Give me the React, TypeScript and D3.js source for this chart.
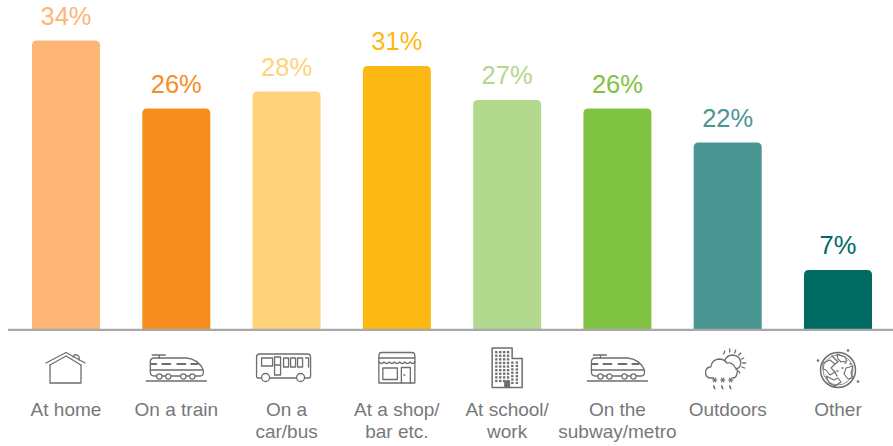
import React, { useEffect, useRef } from "react";
import * as d3 from "d3";

const categories = ["home", "train", "bus", "shop", "school", "subway", "outdoors", "other"];
const values = [34, 26, 28, 31, 27, 26, 22, 7];
const barColors = ["#FDB675", "#F78D1F", "#FFD27C", "#FDB913", "#B2D88D", "#80C342", "#4A9693", "#006B63"];
const tickLines = [
  ["At home"],
  ["On a train"],
  ["On a", "car/bus"],
  ["At a shop/", "bar etc."],
  ["At school/", "work"],
  ["On the", "subway/metro"],
  ["Outdoors"],
  ["Other"],
];

const INK = "#6d6e71";
const WIDTH = 893;
const HEIGHT = 446;
const BASE_Y = 329.5;

type Sel = d3.Selection<SVGGElement, unknown, null, undefined>;

const stroke = (g: Sel, d: string, w = 1.3) =>
  g.append("path").attr("d", d).attr("fill", "none").attr("stroke", INK).attr("stroke-width", w)
    .attr("stroke-linejoin", "round").attr("stroke-linecap", "round");

function house(g: Sel) {
  stroke(g, "M-20,-6 L0,-16.5 L19,-6");
  stroke(g, "M-16,-4 L0,-13 L15,-4");
  stroke(g, "M-16,-4 V14 H15 V-4");
  stroke(g, "M7,-12 Q8,-15 11,-14 Q14,-13 13,-9");
}

function train(g: Sel) {
  stroke(g, "M-24,-14 H-11 M-17,-14 V-11");
  stroke(g, "M-22,-11 H10 Q22,-10 27,1 V4 Q27,7 23,7 H-22 Q-26,7 -26,3 V-7 Q-26,-11 -22,-11 Z");
  stroke(g, "M-25,-5 H-20 M-14,-5 H-6 M1,-5 H9 M15,-5 H21", 2);
  stroke(g, "M-26,1 H26");
  [-17, -8, 7, 16].forEach((x) =>
    g.append("circle").attr("cx", x).attr("cy", 7.5).attr("r", 2.6)
      .attr("fill", "#fff").attr("stroke", INK).attr("stroke-width", 1.2));
  stroke(g, "M-30,12 H30", 1.5);
}

function bus(g: Sel) {
  stroke(g, "M-23,9 H-26 Q-27,9 -27,7 V-12 Q-27,-15 -24,-15 H24 Q27,-15 27,-12 V7 Q27,9 25,9 H22 M13,9 H-14");
  stroke(g, "M-22,-11 H-11 V-3 H-22 Z");
  stroke(g, "M-9,-12 H-3 V6 H-9 Z M-9,-4 H-3");
  [0, 7, 14].forEach((x) => stroke(g, `M${x},-11 h5 v9 h-5 Z`));
  stroke(g, "M22,-11 h3 v9");
  [-18, 17].forEach((x) =>
    g.append("circle").attr("cx", x).attr("cy", 8.5).attr("r", 4)
      .attr("fill", "#fff").attr("stroke", INK).attr("stroke-width", 1.3));
}

function shop(g: Sel) {
  stroke(g, "M-18,-13 Q-18,-16.5 -15,-16.5 H15 Q18,-16.5 18,-13 V14 H-18 Z");
  stroke(g, "M-18,-11 H18");
  stroke(g, "M-18,-7 q2.6,3 5.2,0 q2.6,3 5.2,0 q2.6,3 5.2,0 q2.6,3 5.2,0 q2.6,3 5.2,0 q2.6,3 5.2,0 q2.6,3 5.2,0");
  stroke(g, "M-14,-1 H0.5 V10.5 H-14 Z");
  stroke(g, "M4.5,14 V-1.5 H13.5 V14");
  stroke(g, "M7,6 h1");
}

function tower(g: Sel) {
  stroke(g, "M-15,19 V-20.5 H5 V-10 H15 V19 Z", 1.5);
  d3.range(0, 9).forEach((row) =>
    d3.range(0, 4).forEach((col) => {
      g.append("rect").attr("x", -12 + col * 3.9).attr("y", -17.5 + row * 3.6)
        .attr("width", 2.4).attr("height", 2.3).attr("fill", INK);
    }));
  d3.range(0, 7).forEach((row) =>
    [4, 8.5].forEach((x) => {
      g.append("rect").attr("x", x).attr("y", -7 + row * 3.4)
        .attr("width", 2.4).attr("height", 2.2).attr("fill", INK);
    }));
  g.append("rect").attr("x", -3).attr("y", 12).attr("width", 6).attr("height", 7).attr("fill", INK);
}

function weather(g: Sel) {
  stroke(g, "M-13,8 H-17 Q-22,7 -21,1 Q-20,-3 -16,-3 Q-15,-10 -8,-11 Q-2,-11 0,-7 Q6,-8 8,-3 Q12,-1 10,5 Q9,8 6,8");
  stroke(g, "M-2,-9 Q0,-15 6,-15 Q14,-14 14,-7 Q14,-2 9,-1");
  ([[-2, -19, -3, -16], [3, -21, 3, -18], [9, -20, 8, -17], [14, -17, 12, -15], [17, -12, 15, -11], [19, -7, 16, -7], [18, -2, 15, -3], [13, 3, 12, 1]] as const)
    .forEach(([a, b, c, e]) => stroke(g, `M${a},${b} L${c},${e}`));
  [-12, -4, 4].forEach((x) => {
    stroke(g, `M${x - 2.2},10 h4.4 M${x - 1.2},8 l2.4,4 M${x + 1.2},8 l-2.4,4`, 1.1);
    stroke(g, `M${x - 1},16 l1,2.5`, 1.6);
  });
}

function globe(g: Sel) {
  g.append("circle").attr("cx", 0).attr("cy", 0).attr("r", 17.5)
    .attr("fill", "none").attr("stroke", INK).attr("stroke-width", 1.5);
  g.append("circle").attr("cx", 0).attr("cy", 0).attr("r", 15)
    .attr("fill", "none").attr("stroke", INK).attr("stroke-width", 0.8);
  stroke(g, "M-15,-7 L-8,-10 L-3,-6 L-7,-2 L-3,2 L-8,5 L-12,0 L-15,-1 Z", 1.1);
  stroke(g, "M-6,-14 L0,-8 L-3,-6 M-3,2 L-1,6");
  stroke(g, "M-1,-16 L7,-13 L9,-9 L3,-8 L0,-11 Z", 1.1);
  stroke(g, "M8,-2 L15,-4 L13,3 L15,8 L10,9 L6,4 Z", 1.1);
  stroke(g, "M-12,6 L-4,10 L0,8 L3,12 L-3,16 L-9,13 Z", 1.1);
  stroke(g, "M4,-2 h1 M7,-7 h1 M12,-6 h1 M-1,1 h1", 1.4);
  ([[-20, -9.5], [10, -19.5], [20, 11.5]] as const).forEach(([x, y]) =>
    g.append("circle").attr("cx", x).attr("cy", y).attr("r", 1.3).attr("fill", INK));
}

// Icon drawer, its horizontal nudge from the bar centre, and its vertical centre.
const iconSet: [(g: Sel) => void, number, number][] = [
  [house, 0, 369],
  [train, 0, 369],
  [bus, -3, 369],
  [shop, 0, 369],
  [tower, 0, 368.5],
  [train, 0, 369],
  [weather, -1, 370],
  [globe, 0, 370],
];

export default function App() {
  const ref = useRef<SVGSVGElement>(null);

  useEffect(() => {
    const svg = d3.select(ref.current!);
    svg.selectAll("*").remove();

    const step = (838 - 66) / 7;
    const inner = 1 - 68 / step;
    const x = d3.scaleBand<string>().domain(categories)
      .range([66 - step / 2, 838 + step / 2])
      .paddingInner(inner).paddingOuter(inner / 2);
    const y = d3.scaleLinear().domain([0, 34]).range([BASE_Y, 40.5]);

    const font = "'Liberation Sans', Arial, sans-serif";
    const data = categories.map((c, i) => ({ c, v: values[i], color: barColors[i], lines: tickLines[i], icon: iconSet[i] }));

    // Rounded tops, square feet.
    const barPath = (px: number, py: number, w: number, h: number, r = 5) =>
      `M${px},${py + h} V${py + r} Q${px},${py} ${px + r},${py} H${px + w - r} Q${px + w},${py} ${px + w},${py + r} V${py + h} Z`;

    svg.append("g").selectAll("path").data(data).join("path")
      .attr("d", (d) => barPath(x(d.c)!, y(d.v), x.bandwidth(), BASE_Y - y(d.v)))
      .attr("fill", (d) => d.color);

    svg.append("line").attr("x1", 8).attr("x2", WIDTH).attr("y1", BASE_Y + 0.4).attr("y2", BASE_Y + 0.4)
      .attr("stroke", "#a9a9ad").attr("stroke-width", 2.4);

    svg.append("g").selectAll("text").data(data).join("text")
      .attr("x", (d) => x(d.c)! + x.bandwidth() / 2)
      .attr("y", (d) => y(d.v) - 16)
      .attr("text-anchor", "middle")
      .attr("font-family", font).attr("font-size", 25.5)
      .attr("fill", (d) => d.color)
      .text((d) => `${d.v}%`);

    data.forEach((d) => {
      const cx = x(d.c)! + x.bandwidth() / 2;
      const [draw, nudge, iy] = d.icon;
      const g = svg.append("g").attr("transform", `translate(${cx + nudge},${iy})`) as unknown as Sel;
      draw(g);
      d.lines.forEach((line, k) => {
        svg.append("text").attr("x", cx).attr("y", 416 + k * 21.5)
          .attr("text-anchor", "middle").attr("font-family", font).attr("font-size", 19)
          .attr("fill", "#77787b").text(line);
      });
    });
  }, []);

  return <svg ref={ref} width={WIDTH} height={HEIGHT} style={{ position: "absolute", left: 0, top: 0, background: "#fff" }} />;
}
